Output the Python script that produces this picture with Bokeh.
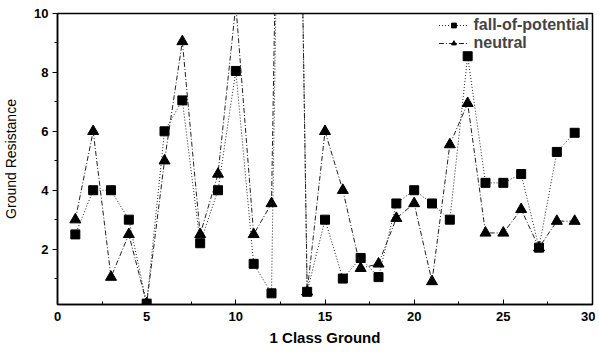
from bokeh.plotting import figure
from bokeh.models import FixedTicker, Range1d
from bokeh.embed import file_html
from bokeh.resources import INLINE

x_vals = list(range(1, 30))
fall_of_potential = [2.5, 4.0, 4.0, 3.0, 0.15, 6.0, 7.05, 2.2, 4.0, 8.05,
                     1.5, 0.5, 40.0, 0.55, 3.0, 1.0, 1.7, 1.05, 3.55, 4.0,
                     3.55, 3.0, 8.55, 4.25, 4.25, 4.55, 2.05, 5.3, 5.95]
neutral = [3.0, 6.0, 1.05, 2.5, 0.15, 5.0, 9.05, 2.5, 4.55, 10.3,
           2.5, 3.55, 40.0, 0.55, 6.0, 4.0, 1.35, 1.5, 3.05, 3.55,
           0.9, 5.55, 6.95, 2.55, 2.55, 3.35, 2.05, 2.95, 2.95]
x_ticks = [0, 5, 10, 15, 20, 25, 30]
x_minor = [2.5, 7.5, 12.5, 17.5, 22.5, 27.5]
y_ticks = [2, 4, 6, 8, 10]
y_minor = [1, 3, 5, 7, 9]

p = figure(width=595, height=348, output_backend="svg", toolbar_location=None,
           x_range=Range1d(0, 30), y_range=Range1d(0.12, 10),
           min_border_left=57, min_border_right=3, min_border_top=13, min_border_bottom=41)

p.grid.visible = False
p.outline_line_color = "black"
p.outline_line_width = 1.5
p.background_fill_color = "white"
p.border_fill_color = "white"

p.line(x_vals, fall_of_potential, line_color="#222222", line_width=1,
       line_dash="1 2", legend_label="fall-of-potential")
p.scatter(x_vals, fall_of_potential, marker="square", size=9, color="black",
          legend_label="fall-of-potential")
p.line(x_vals, neutral, line_color="#222222", line_width=1,
       line_dash="5 2 1 2", legend_label="neutral")
p.scatter(x_vals, neutral, marker="triangle", size=11, color="black",
          legend_label="neutral")

p.xaxis.ticker = FixedTicker(ticks=x_ticks, minor_ticks=x_minor)
p.yaxis.ticker = FixedTicker(ticks=y_ticks, minor_ticks=y_minor)

for ax in (p.xaxis[0], p.yaxis[0]):
    ax.axis_line_color = "black"
    ax.axis_line_width = 1.5
    ax.major_label_text_font = "Liberation Sans"
    ax.major_label_text_font_style = "bold"
    ax.major_label_text_font_size = "13px"
    ax.major_label_text_color = "black"
    ax.axis_label_text_color = "black"

p.xaxis.major_tick_in = 5
p.xaxis.major_tick_out = 0
p.xaxis.minor_tick_in = 3
p.xaxis.minor_tick_out = 0
p.yaxis.major_tick_in = 0
p.yaxis.major_tick_out = 5
p.yaxis.minor_tick_in = 0
p.yaxis.minor_tick_out = 3

p.xaxis.axis_label = "1 Class Ground"
p.xaxis.axis_label_text_font = "Liberation Sans"
p.xaxis.axis_label_text_font_style = "bold"
p.xaxis.axis_label_text_font_size = "15px"
p.xaxis.axis_label_standoff = 5
p.xaxis.major_label_standoff = 7

p.yaxis.axis_label = "Ground Resistance"
p.yaxis.axis_label_text_font = "Liberation Sans"
p.yaxis.axis_label_text_font_style = "normal"
p.yaxis.axis_label_text_font_size = "14px"
p.yaxis.axis_label_standoff = 12
p.yaxis.major_label_standoff = 4

p.legend.location = "top_right"
p.legend.background_fill_alpha = 0
p.legend.border_line_alpha = 0
p.legend.label_text_font = "Liberation Sans"
p.legend.label_text_font_style = "bold"
p.legend.label_text_font_size = "16px"
p.legend.glyph_width = 30
p.legend.glyph_height = 12
p.legend.spacing = -10
p.legend.padding = 0
p.legend.margin = 3
p.legend.label_standoff = 5
p.legend.label_height = 12

open("out.html", "w").write(file_html(p, INLINE))
